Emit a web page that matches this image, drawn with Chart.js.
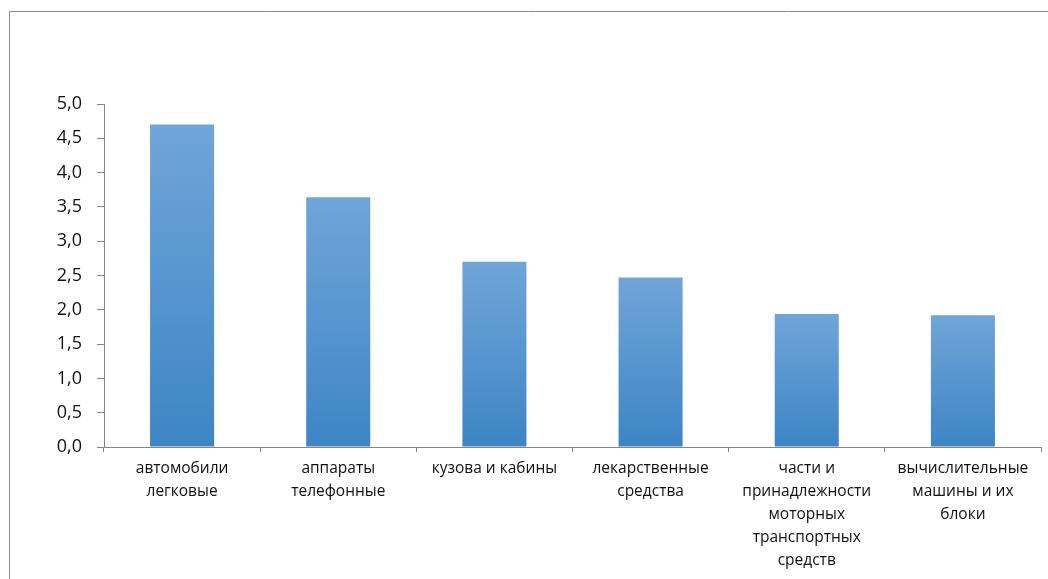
<!DOCTYPE html>
<html><head><meta charset="utf-8">
<script src="https://cdn.jsdelivr.net/npm/chart.js@4"></script>
<style>html,body{margin:0;padding:0;background:#fff;}#wrap{position:relative;width:1048px;height:579px;}</style>
</head><body><div id="wrap"><canvas id="c" width="1048" height="579"></canvas></div>
<script>
const categories = [
  ["автомобили", "легковые"],
  ["аппараты", "телефонные"],
  ["кузова и кабины"],
  ["лекарственные", "средства"],
  ["части и", "принадлежности", "моторных", "транспортных", "средств"],
  ["вычислительные", "машины и их", "блоки"]
];
const values = [4.7, 3.64, 2.7, 2.47, 1.94, 1.92];
const yTicks = [0, 0.5, 1, 1.5, 2, 2.5, 3, 3.5, 4, 4.5, 5];

const axisColor = '#868686';
const borderPlugin = {
  id: 'frame',
  afterDraw(chart) {
    const ctx = chart.ctx;
    ctx.save();
    ctx.strokeStyle = '#8c8c8c';
    ctx.lineWidth = 1;
    ctx.beginPath();
    ctx.moveTo(9.5, 579);
    ctx.lineTo(9.5, 11.5);
    ctx.lineTo(1048, 11.5);
    ctx.stroke();
    ctx.restore();
  }
};
function barFill(context) {
  const chart = context.chart;
  if (!chart.chartArea || !chart.scales.y) return '#5b9bd5';
  const y = chart.scales.y;
  const top = y.getPixelForValue(context.raw);
  const base = y.getPixelForValue(0);
  const g = chart.ctx.createLinearGradient(0, top, 0, base);
  g.addColorStop(0, '#70a5d8');
  g.addColorStop(1, '#3d85c6');
  return g;
}
new Chart(document.getElementById('c'), {
  type: 'bar',
  data: {
    labels: categories,
    datasets: [{
      data: values,
      backgroundColor: barFill,
      borderWidth: 0,
      categoryPercentage: 1,
      barPercentage: 0.41
    }]
  },
  plugins: [borderPlugin],
  options: {
    responsive: false,
    animation: false,
    devicePixelRatio: 1,
    layout: { padding: { left: 0, right: 7, top: 104, bottom: 0 } },
    plugins: { legend: { display: false }, tooltip: { enabled: false } },
    scales: {
      y: {
        min: 0, max: 5,
        afterBuildTicks(scale) { scale.ticks = yTicks.map(v => ({ value: v })); },
        afterFit(scale) { scale.width = 104; },
        grid: { drawOnChartArea: false, drawTicks: true, tickLength: 7, color: axisColor },
        border: { color: axisColor, width: 1 },
        ticks: {
          padding: 15,
          color: '#111',
          font: { family: 'Open Sans', size: 18 },
          callback: v => Number(v).toFixed(1).replace('.', ',')
        }
      },
      x: {
        afterFit(scale) { scale.height = 132; },
        grid: { drawOnChartArea: false, drawTicks: true, tickLength: 5, color: axisColor, offset: true },
        border: { color: axisColor, width: 1 },
        ticks: {
          padding: 5,
          color: '#111',
          maxRotation: 0,
          autoSkip: false,
          font: { family: 'Open Sans', size: 15.5, lineHeight: 1.48 }
        }
      }
    }
  }
});
</script></body></html>
